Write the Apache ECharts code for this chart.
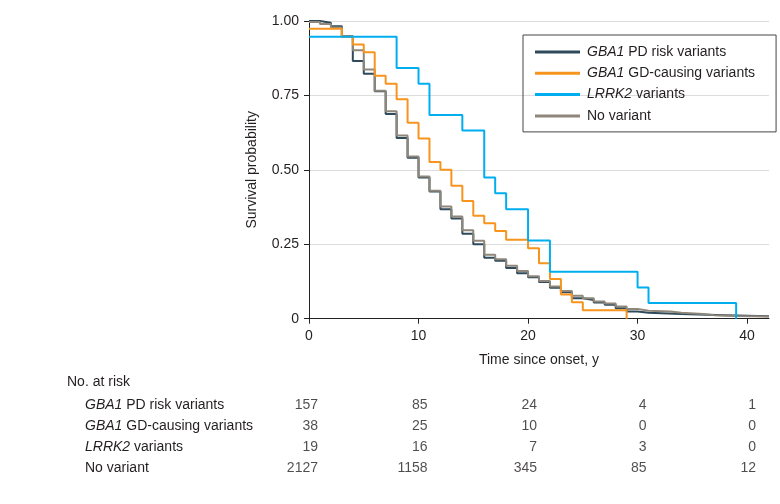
<!DOCTYPE html>
<html><head><meta charset="utf-8">
<script src="https://cdn.jsdelivr.net/npm/echarts@6/dist/echarts.min.js"></script>
<style>html,body{margin:0;padding:0;background:#fff}#c{width:780px;height:504px}</style>
</head><body><div id="c"></div>
<script>
// ---- data ----
const groupNames = ['GBA1 PD risk variants', 'GBA1 GD-causing variants', 'LRRK2 variants', 'No variant'];
const groupItalic = ['GBA1', 'GBA1', 'LRRK2', ''];
const groupRest = [' PD risk variants', ' GD-causing variants', ' variants', 'No variant'];
const groupColors = ['#2e4a5b', '#f7941d', '#00aeef', '#8f877b'];

const timesPD = [0, 1, 2, 3, 4, 5, 6, 7, 8, 9, 10, 11, 12, 13, 14, 15, 16, 17, 18, 19, 20, 21, 22, 23, 24, 25, 26, 27, 28, 29, 30, 31, 34, 38, 42];
const survPD  = [1.000, 0.994, 0.982, 0.949, 0.866, 0.823, 0.764, 0.688, 0.607, 0.541, 0.474, 0.427, 0.368, 0.337, 0.285, 0.250, 0.205, 0.195, 0.170, 0.153, 0.139, 0.123, 0.104, 0.089, 0.069, 0.063, 0.054, 0.047, 0.035, 0.024, 0.020, 0.016, 0.012, 0.008, 0.008];

const timesGD = [0, 3, 4, 5, 6, 7, 8, 9, 10, 11, 12, 13, 14, 15, 16, 17, 18, 20, 21, 22, 23, 24, 25, 29];
const survGD  = [0.974, 0.947, 0.921, 0.895, 0.816, 0.789, 0.737, 0.658, 0.605, 0.526, 0.500, 0.447, 0.395, 0.346, 0.321, 0.295, 0.265, 0.237, 0.186, 0.133, 0.081, 0.055, 0.028, 0.000];

const timesLR = [0, 8, 10, 11, 14, 16, 17, 18, 20, 22, 30, 31, 39];
const survLR  = [0.947, 0.842, 0.789, 0.684, 0.632, 0.474, 0.421, 0.368, 0.263, 0.158, 0.105, 0.053, 0.000];

const timesNV = [0, 1, 2, 3, 4, 5, 6, 7, 8, 9, 10, 11, 12, 13, 14, 15, 16, 17, 18, 19, 20, 21, 22, 23, 24, 25, 26, 27, 28, 29, 30, 31, 33, 34, 36, 37, 39, 42];
const survNV  = [0.997, 0.990, 0.978, 0.947, 0.902, 0.837, 0.766, 0.697, 0.615, 0.545, 0.478, 0.430, 0.377, 0.343, 0.297, 0.262, 0.215, 0.200, 0.178, 0.160, 0.143, 0.127, 0.108, 0.093, 0.077, 0.069, 0.058, 0.051, 0.041, 0.033, 0.027, 0.024, 0.020, 0.016, 0.012, 0.009, 0.007, 0.007];

const xTicks = [0, 10, 20, 30, 40];
const yTicks = [0, 0.25, 0.5, 0.75, 1];

const atRiskPD = [157, 85, 24, 4, 1];
const atRiskGD = [38, 25, 10, 0, 0];
const atRiskLR = [19, 16, 7, 3, 0];
const atRiskNV = [2127, 1158, 345, 85, 12];

// ---- build ----
const FONT = 'Liberation Sans';
const TXT = '#231f20';
const curves = [[timesPD, survPD], [timesGD, survGD], [timesLR, survLR], [timesNV, survNV]];
const zOrder = [2, 4, 5, 3];
const labelRich = {i: {fontStyle: 'italic', fontFamily: FONT, fontSize: 14, color: TXT}};
function richName(idx) {
  return groupItalic[idx] ? '{i|' + groupItalic[idx] + '}' + groupRest[idx] : groupRest[idx];
}

const series = curves.map((c, k) => ({
  name: groupNames[k],
  type: 'line',
  step: 'end',
  symbol: 'none',
  xAxisIndex: 0, yAxisIndex: 0,
  color: groupColors[k],
  lineStyle: {width: 2, color: groupColors[k]},
  z: zOrder[k],
  data: c[0].map((t, i) => [t, c[1][i]])
}));

const riskRows = [atRiskPD, atRiskGD, atRiskLR, atRiskNV];
const riskData = [];
riskRows.forEach((row, i) => row.forEach((n, j) => riskData.push([xTicks[j], groupNames[i], n])));
series.push({
  type: 'scatter',
  xAxisIndex: 1, yAxisIndex: 1,
  symbolSize: 0,
  itemStyle: {color: 'transparent'},
  silent: true,
  label: {
    show: true, position: [9, 0], align: 'right', verticalAlign: 'middle',
    fontFamily: FONT, fontSize: 14, color: TXT,
    formatter: p => String(p.value[2])
  },
  data: riskData
});

const option = {
  animation: false,
  backgroundColor: '#fff',
  textStyle: {fontFamily: FONT, color: TXT},
  title: {
    text: 'No. at risk', left: 62, top: 370,
    textStyle: {fontFamily: FONT, fontSize: 14, fontWeight: 'normal', color: TXT}
  },
  legend: {
    data: groupNames,
    orient: 'vertical',
    left: 523, top: 35,
    padding: [9, 21, 8, 12],
    borderColor: '#444', borderWidth: 1,
    icon: 'rect', itemWidth: 45, itemHeight: 3, itemGap: 5.3,
    selectedMode: false,
    formatter: name => richName(groupNames.indexOf(name)),
    textStyle: {fontFamily: FONT, fontSize: 14, lineHeight: 16, color: TXT, padding: [0, 0, 0, 2], rich: labelRich}
  },
  grid: [
    {left: 309, right: 11, top: 21, height: 297.7},
    {left: 309, right: 11, top: 394, height: 85.3}
  ],
  xAxis: [
    {
      type: 'value', gridIndex: 0, min: 0, max: 42, interval: 10,
      axisLine: {show: true, lineStyle: {color: '#222', width: 1}},
      axisTick: {show: true, length: 5, lineStyle: {color: '#222'}, customValues: xTicks},
      axisLabel: {fontSize: 14, color: TXT, margin: 10, customValues: xTicks},
      splitLine: {show: false},
      name: 'Time since onset, y', nameLocation: 'middle', nameGap: 34,
      nameTextStyle: {fontSize: 14, color: TXT}
    },
    {type: 'value', gridIndex: 1, min: 0, max: 42, show: false}
  ],
  yAxis: [
    {
      type: 'value', gridIndex: 0, min: 0, max: 1, interval: 0.25,
      axisLine: {show: true, lineStyle: {color: '#222', width: 1}},
      axisTick: {show: true, length: 5, lineStyle: {color: '#222'}},
      axisLabel: {fontSize: 14, color: TXT, margin: 10, formatter: v => v === 0 ? '0' : v.toFixed(2)},
      splitLine: {show: true, lineStyle: {color: '#dcdcdc', width: 1}},
      name: 'Survival probability', nameLocation: 'middle', nameGap: 50,
      nameTextStyle: {fontSize: 14, color: TXT}
    },
    {
      type: 'category', gridIndex: 1, data: groupNames, inverse: true,
      axisLine: {show: false}, axisTick: {show: false}, splitLine: {show: false},
      axisLabel: {
        align: 'left', margin: 224, fontSize: 14, color: TXT,
        formatter: name => richName(groupNames.indexOf(name)),
        rich: labelRich
      }
    }
  ],
  series: series
};
const chart = echarts.init(document.getElementById('c'), null, {renderer: 'canvas'});
chart.setOption(option);
</script>
</body></html>
